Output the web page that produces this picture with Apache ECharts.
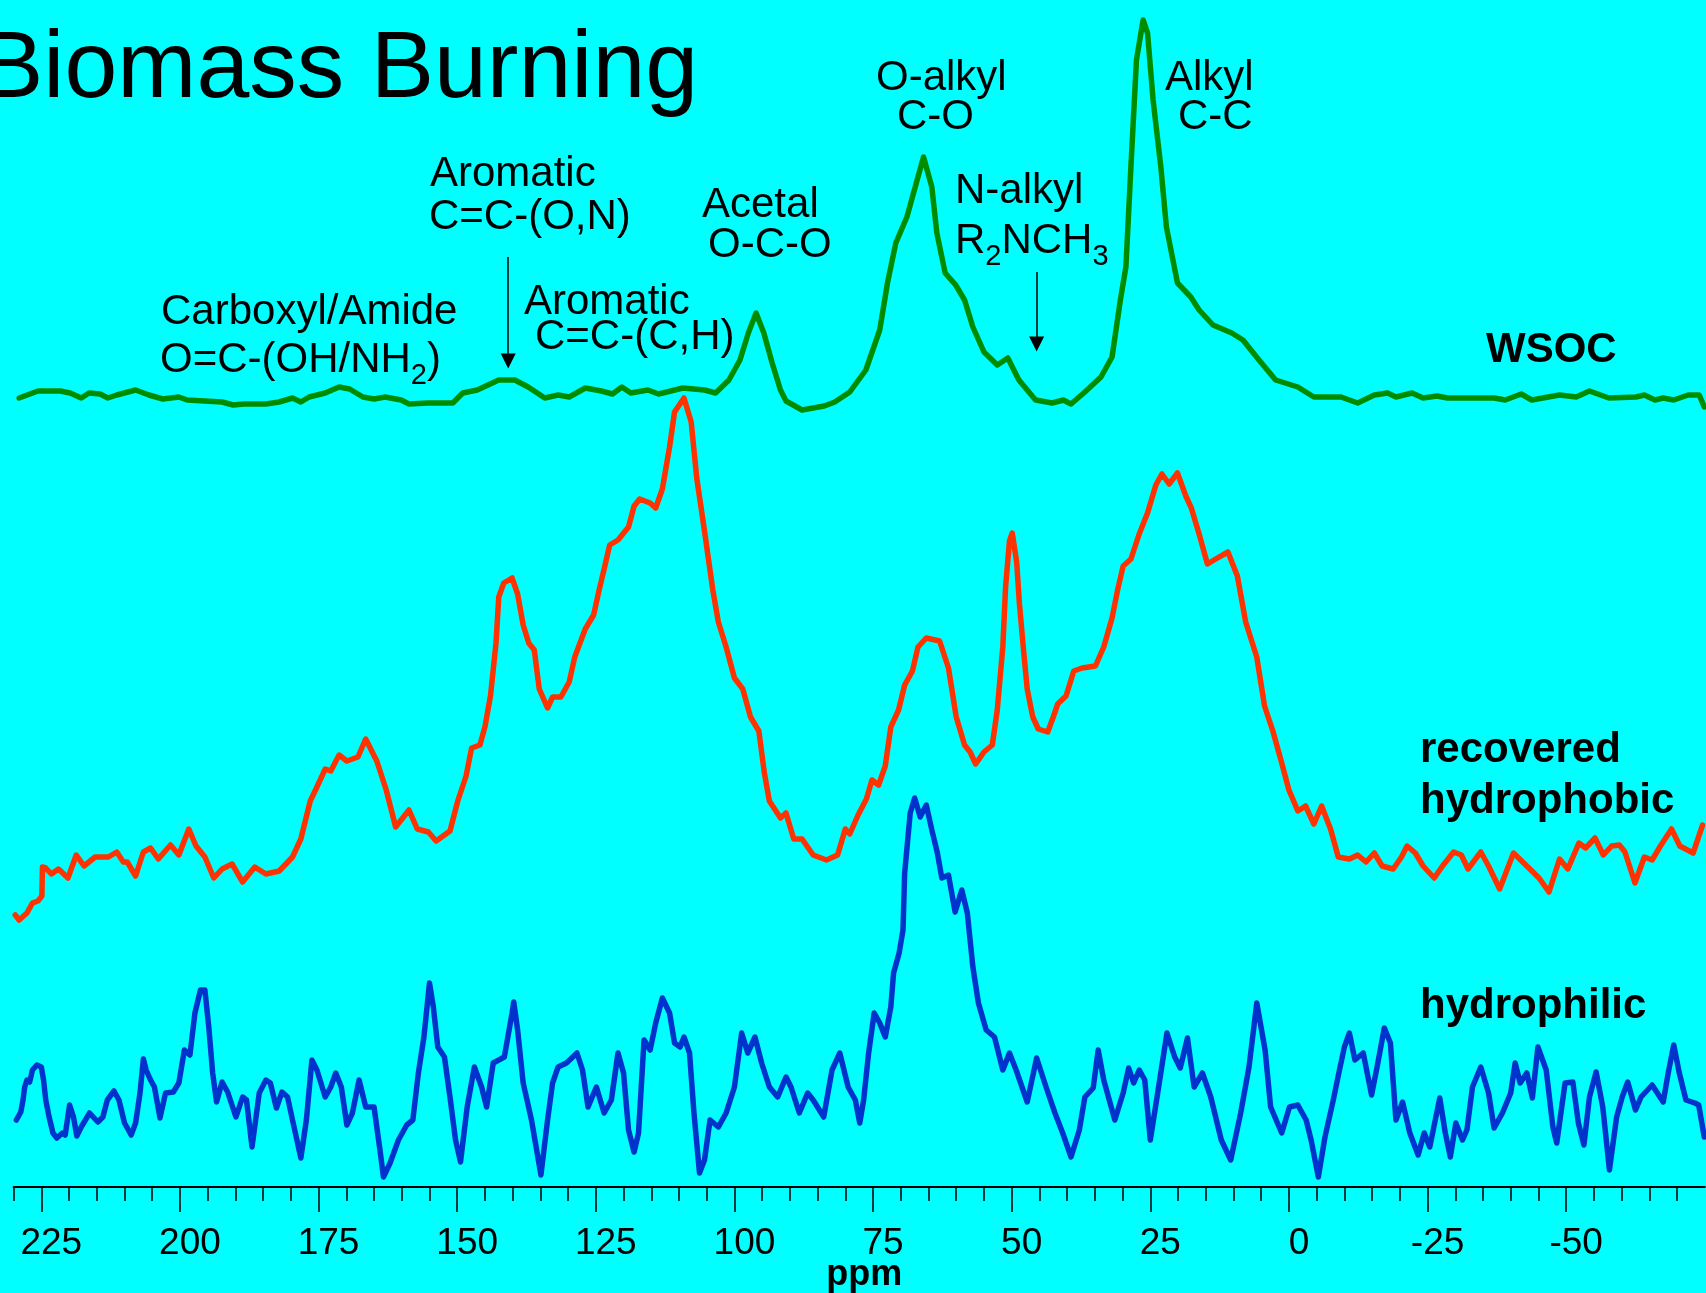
<!DOCTYPE html>
<html>
<head>
<meta charset="utf-8">
<title>Biomass Burning – 13C NMR spectra</title>
<script src="https://cdn.jsdelivr.net/npm/echarts@6/dist/echarts.min.js"></script>
<style>
  html, body { margin: 0; padding: 0; background: #00ffff; }
  #chart { width: 1706px; height: 1293px; }
</style>
</head>
<body>
<div id="chart"></div>
<script>
// Chemical-shift axis (ppm, drawn high → low)
const PPM_MIN = -75;
const PPM_MAX = 230;
const TICK_LABELS = [225, 200, 175, 150, 125, 100, 75, 50, 25, 0, -25, -50];

// Spectra: [ppm, intensity] pairs, intensity relative to each trace's own baseline
const WSOC = [
  [229.0,0],[225.6,7],[221.6,7],[219.8,5],[217.8,0],[216.4,5],[214.4,4],[213.0,0],[211.4,3],[208.0,8],
  [205.6,3],[203.1,-1],[200.2,1],[198.7,-2],[192.4,-4],[190.4,-7],[188.4,-6],[184.5,-6],[182.1,-4],[179.7,0],
  [178.2,-4],[176.7,1],[173.8,5],[171.3,11],[169.4,9],[167.0,1],[165.0,-1],[163.0,1],[160.1,-2],[158.7,-6],
  [155.3,-5],[150.8,-5],[149.0,5],[146.4,8],[142.5,18],[139.6,18],[137.2,11],[134.2,0],[131.8,3],[129.8,1],
  [126.9,10],[124.0,7],[122.0,4],[120.3,11],[118.7,5],[115.6,8],[113.7,4],[112.2,6],[109.3,10],[105.4,8],
  [103.4,5],[101.0,18],[99.0,38],[97.5,65],[96.1,85],[94.7,65],[93.2,35],[91.7,8],[90.7,-3],[87.8,-12],
  [85.8,-10],[83.8,-8],[81.9,-4],[79.2,6],[76.3,28],[73.8,68],[72.4,115],[70.9,155],[68.9,181],[67.4,211],
  [65.9,241],[64.4,211],[63.5,165],[62.0,125],[60.1,113],[58.5,98],[57.0,71],[55.0,46],[52.6,33],[50.7,40],
  [48.7,18],[45.7,-2],[42.7,-5],[40.7,-2],[39.3,-6],[36.8,6],[33.9,21],[31.9,41],[30.4,98],[29.4,131],
  [28.5,231],[27.5,338],[26.3,378],[25.5,365],[24.5,298],[23.1,231],[22.1,171],[20.1,115],[17.7,101],[16.2,88],
  [13.7,73],[10.3,65],[8.3,58],[5.4,38],[2.4,18],[-1.6,11],[-4.5,1],[-9.4,1],[-12.4,-5],[-15.4,3],
  [-17.8,5],[-19.3,1],[-22.2,5],[-24.2,0],[-26.7,2],[-28.6,0],[-37.0,0],[-39.0,-2],[-41.9,4],[-43.8,-2],
  [-48.8,3],[-51.8,1],[-54.2,7],[-57.7,0],[-62.6,1],[-64.1,3],[-66.0,-2],[-67.5,0],[-69.4,-2],[-72.0,3],
  [-74.0,3],[-74.9,-9]
];

const HYDROPHOBIC = [
  [229.7,-35],[229.0,-40],[227.6,-33],[226.6,-23],[225.6,-21],[224.9,-16],[224.8,13],[224.2,12],[223.2,6],[221.9,11],
  [220.2,2],[218.7,25],[217.3,14],[215.3,23],[212.9,23],[211.4,28],[210.2,18],[209.5,18],[208.0,4],[206.6,28],
  [205.3,32],[203.9,21],[201.7,35],[200.2,25],[198.4,51],[197.1,34],[195.5,23],[193.9,2],[192.4,11],[190.6,16],
  [188.7,-2],[186.5,13],[184.5,6],[182.1,9],[179.7,23],[178.2,41],[176.5,79],[175.3,93],[173.8,111],[172.8,109],
  [171.3,125],[169.9,119],[167.9,123],[166.5,141],[164.5,119],[162.8,90],[161.1,53],[158.7,70],[157.2,51],[155.2,48],
  [153.8,39],[151.3,49],[149.9,79],[148.4,104],[147.4,132],[145.9,135],[145.0,153],[144.0,184],[143.0,237],[142.5,283],
  [141.6,297],[140.1,302],[139.1,286],[138.1,255],[137.1,237],[136.1,230],[135.2,191],[133.7,172],[132.8,183],[131.3,183],
  [129.8,198],[128.8,223],[126.9,251],[125.4,265],[124.4,290],[123.5,311],[122.5,335],[121.0,340],[119.1,353],[118.1,374],
  [117.1,381],[115.2,377],[114.2,372],[113.0,391],[111.7,433],[110.8,468],[109.1,482],[107.8,458],[106.8,402],[105.4,349],
  [103.9,290],[102.9,258],[101.5,233],[100.0,202],[98.5,191],[97.1,163],[95.6,149],[94.6,107],[93.7,79],[91.7,62],
  [90.7,67],[89.3,41],[87.8,41],[85.8,25],[83.4,20],[81.4,25],[80.0,51],[79.2,46],[77.7,65],[76.2,81],
  [75.2,100],[74.0,95],[72.8,114],[71.8,153],[70.4,170],[69.3,195],[67.9,209],[66.9,233],[65.4,242],[63.0,239],
  [61.4,212],[60.0,163],[58.5,135],[57.5,128],[56.5,116],[55.0,128],[53.5,135],[52.6,170],[51.6,233],[51.1,293],
  [50.4,339],[49.9,347],[49.1,318],[48.6,276],[47.8,226],[47.2,191],[46.2,163],[45.2,151],[43.5,148],[42.5,163],
  [41.7,176],[40.2,184],[38.8,209],[37.3,212],[34.9,214],[33.4,233],[31.9,262],[30.9,290],[29.9,314],[28.5,321],
  [27.0,346],[25.5,367],[24.0,395],[22.9,406],[21.6,396],[20.1,407],[18.6,384],[17.6,372],[16.2,346],[14.7,316],
  [13.2,321],[11.0,328],[9.3,304],[7.8,258],[5.8,223],[4.4,174],[2.9,149],[1.4,119],[0.0,90],[-1.6,69],
  [-3.0,74],[-4.5,56],[-5.9,74],[-7.5,51],[-8.9,23],[-10.9,21],[-12.4,25],[-13.9,18],[-15.4,27],[-16.8,14],
  [-18.8,11],[-20.3,23],[-21.3,34],[-22.8,27],[-24.2,14],[-26.2,2],[-27.7,14],[-29.7,28],[-31.1,25],[-32.3,11],
  [-34.6,28],[-36.0,14],[-38.0,-9],[-40.5,27],[-42.9,14],[-45.1,2],[-46.9,-12],[-48.8,21],[-50.3,11],[-52.3,37],
  [-53.5,32],[-55.2,42],[-56.7,25],[-58.2,34],[-59.6,35],[-60.6,28],[-62.4,-3],[-64.1,23],[-65.5,20],[-67.0,34],
  [-69.0,51],[-70.5,34],[-72.9,27],[-74.6,55]
];

const HYDROPHILIC = [
  [229.5,0],[228.7,8],[228.3,20],[228.0,33],[227.6,40],[227.1,38],[226.6,50],[225.8,55],[225.0,53],[224.6,40],
  [224.2,20],[223.6,3],[222.9,-13],[222.2,-18],[221.2,-13],[220.7,-15],[219.9,15],[219.2,3],[218.6,-16],[217.8,-7],
  [216.3,7],[214.8,-2],[213.9,3],[213.1,20],[211.9,29],[211.0,20],[210.0,-3],[208.8,-15],[208.0,-3],[207.2,27],
  [206.6,61],[206.1,50],[205.3,40],[204.6,33],[203.6,2],[202.6,27],[201.2,28],[200.2,37],[199.2,70],[198.2,65],
  [197.3,107],[196.3,130],[195.5,130],[194.8,93],[194.1,47],[193.4,18],[192.4,38],[191.4,28],[189.9,3],[188.7,23],
  [188.0,20],[187.0,-27],[185.7,27],[184.5,40],[183.7,37],[182.6,12],[181.6,28],[180.6,23],[179.7,0],[178.2,-38],
  [177.2,0],[176.2,60],[175.3,50],[173.8,23],[172.8,33],[171.9,47],[170.9,33],[169.9,-5],[168.9,7],[167.7,40],
  [166.5,13],[165.0,13],[164.0,-27],[163.3,-57],[162.1,-43],[160.6,-20],[159.1,-5],[158.0,0],[157.0,47],[156.0,83],
  [155.0,137],[154.3,113],[153.5,73],[152.3,63],[151.3,23],[150.3,-20],[149.4,-42],[148.2,13],[146.9,53],[145.6,33],
  [144.7,13],[143.5,57],[141.5,63],[140.1,107],[139.8,118],[139.1,90],[138.1,37],[136.6,0],[134.9,-55],[133.7,0],
  [132.8,37],[131.8,53],[130.3,57],[128.4,67],[127.4,50],[126.4,13],[124.9,33],[123.5,7],[122.2,20],[121.0,67],
  [120.0,47],[119.1,-10],[118.1,-32],[117.3,-13],[116.3,80],[115.2,70],[114.2,97],[113.0,122],[111.7,107],[110.8,77],
  [109.8,73],[109.1,83],[108.1,67],[107.3,7],[106.3,-53],[105.4,-40],[104.4,0],[102.9,-7],[101.5,7],[100.0,33],
  [98.7,87],[97.6,67],[96.3,83],[95.1,57],[93.7,33],[92.2,23],[90.7,43],[89.8,33],[88.3,7],[86.8,27],
  [85.8,20],[83.9,3],[82.4,50],[81.0,67],[79.5,33],[78.2,20],[77.4,-3],[76.7,20],[75.8,67],[74.8,107],
  [73.8,97],[72.8,83],[71.8,113],[71.3,147],[70.3,167],[69.6,190],[69.3,247],[68.3,307],[67.5,322],[66.5,303],
  [65.4,315],[64.4,290],[63.4,267],[62.6,242],[61.4,245],[60.2,208],[59.0,230],[58.0,207],[57.0,153],[56.0,117],
  [54.6,90],[53.1,83],[51.6,50],[50.4,67],[49.2,50],[47.2,18],[45.5,62],[43.8,33],[42.2,7],[40.8,-13],
  [39.3,-37],[37.8,-10],[36.8,23],[35.3,32],[34.4,70],[33.4,40],[31.4,0],[29.9,27],[28.9,52],[28.0,37],
  [27.0,50],[26.0,40],[25.0,-20],[23.5,33],[22.0,87],[20.6,63],[19.6,52],[18.3,82],[17.1,33],[15.6,47],
  [14.1,23],[12.2,-20],[10.5,-40],[8.7,7],[7.2,53],[5.8,117],[4.3,70],[3.3,13],[1.3,-13],[-0.1,13],
  [-1.6,15],[-3.1,0],[-4.0,-20],[-5.3,-57],[-6.5,-17],[-8.0,20],[-9.0,47],[-10.0,73],[-10.9,87],[-11.9,60],
  [-13.4,67],[-14.9,25],[-15.9,53],[-17.2,92],[-18.3,77],[-19.3,0],[-20.5,18],[-21.8,-13],[-23.3,-35],[-24.4,-13],
  [-25.4,-27],[-27.2,22],[-28.2,-13],[-29.1,-37],[-30.1,-3],[-31.3,-20],[-32.1,-10],[-33.1,33],[-34.6,53],[-36.0,27],
  [-37.0,-8],[-38.5,7],[-40.0,27],[-40.8,57],[-41.7,37],[-42.9,47],[-43.9,22],[-44.9,73],[-46.4,50],[-47.6,-7],
  [-48.3,-23],[-49.8,37],[-51.2,38],[-52.2,-3],[-53.2,-25],[-54.2,23],[-55.4,48],[-56.6,13],[-57.8,-50],[-59.1,3],
  [-60.1,23],[-61.1,38],[-62.5,10],[-63.5,23],[-65.5,35],[-67.5,18],[-68.4,47],[-69.4,75],[-70.4,47],[-71.6,20],
  [-73.2,17],[-73.9,15],[-74.9,-17]
];

// Vertical stacking of the three traces (intensity units)
const STACK_OFFSET = { wsoc: 789, hydrophobic: 307, hydrophilic: 67 };
const Y_MAX = 1187;

// Assignment arrows: [ppm, top, tip] in intensity units
const ARROWS = [
  [140.8, 930, 819],
  [45.5, 915, 836]
];

const FONT = "'Liberation Sans', Arial, Helvetica, sans-serif";
const GREEN = '#008c00';
const RED = '#ff3300';
const BLUE = '#0033cc';

// minor ticks every 5 ppm, skipping the labelled ones
const MINOR_TICKS = [];
for (let v = PPM_MAX; v >= PPM_MIN + 5; v -= 5) {
  if (!TICK_LABELS.includes(v)) MINOR_TICKS.push(v);
}

const stacked = (pairs, off) => pairs.map(p => [p[0], p[1] + off]);

function label(text, x, yMid, opts) {
  return {
    type: 'text', x: x, y: yMid, silent: true,
    style: Object.assign({
      text: text, fill: '#000', fontFamily: FONT, fontSize: 42,
      lineHeight: 46, align: 'left', verticalAlign: 'middle'
    }, opts || {})
  };
}
const SUB = { fontFamily: FONT, fontSize: 29, lineHeight: 29, verticalAlign: 'top', padding: [24, 0, 0, 0], fill: '#000' };

const chart = echarts.init(document.getElementById('chart'), null, { renderer: 'canvas' });

const lineSeries = (name, data, color) => ({
  name: name, type: 'line', data: data, showSymbol: false, symbol: 'none',
  smooth: false, clip: false, silent: true,
  lineStyle: { color: color, width: 5.5, cap: 'round', join: 'round' }
});

const wsocSeries = lineSeries('WSOC', stacked(WSOC, STACK_OFFSET.wsoc), GREEN);
wsocSeries.markLine = {
  silent: true, animation: false,
  symbol: ['none', 'triangle'], symbolSize: 15,
  label: { show: false },
  lineStyle: { color: '#000', width: 1.5, type: 'solid' },
  emphasis: { disabled: true },
  data: ARROWS.map(a => [{ coord: [a[0], a[1]] }, { coord: [a[0], a[2] + 7] }])
};

chart.setOption({
  animation: false,
  backgroundColor: '#00ffff',
  grid: {
    left: 13.6, right: 1.2, top: 0, bottom: 1293 - Y_MAX,
    containLabel: false, outerBoundsMode: 'none'
  },
  xAxis: [
    {
      type: 'value', min: PPM_MIN, max: PPM_MAX, inverse: true, position: 'bottom',
      name: 'ppm', nameLocation: 'middle', nameGap: 70, nameMoveOverlap: false,
      nameTextStyle: { fontFamily: FONT, fontSize: 36, fontWeight: 'bold', color: '#000', padding: [0, 0, 0, 10] },
      axisLine: { show: true, onZero: false, lineStyle: { color: '#000', width: 2 } },
      axisTick: { show: true, customValues: TICK_LABELS, length: 25, inside: false, lineStyle: { color: '#000', width: 1.5 } },
      axisLabel: {
        show: true, customValues: TICK_LABELS, margin: 38,
        fontFamily: FONT, fontSize: 37, color: '#000', padding: [0, 0, 0, 20],
        hideOverlap: false, showMinLabel: true, showMaxLabel: true
      },
      splitLine: { show: false }
    },
    {
      type: 'value', min: PPM_MIN, max: PPM_MAX, inverse: true, position: 'bottom', offset: 0,
      axisLine: { show: false },
      axisTick: { show: true, customValues: MINOR_TICKS, length: 14, inside: false, lineStyle: { color: '#000', width: 1.5 } },
      axisLabel: { show: false },
      splitLine: { show: false }
    }
  ],
  yAxis: { type: 'value', min: 0, max: Y_MAX, show: false, splitLine: { show: false } },
  series: [
    wsocSeries,
    lineSeries('recovered hydrophobic', stacked(HYDROPHOBIC, STACK_OFFSET.hydrophobic), RED),
    lineSeries('hydrophilic', stacked(HYDROPHILIC, STACK_OFFSET.hydrophilic), BLUE)
  ],
  graphic: [
    label('Biomass Burning', -20, 71, { fontSize: 95, lineHeight: 100 }),
    label('Aromatic', 430, 174),
    label('C=C-(O,N)', 429, 217),
    label('Acetal', 702, 205),
    label('O-C-O', 708, 245),
    label('Carboxyl/Amide', 161, 312),
    label('O=C-(OH/NH{sub|2})', 160, 360, { rich: { sub: SUB } }),
    label('Aromatic', 524, 302),
    label('C=C-(C,H)', 535, 337),
    label('O-alkyl', 876, 78),
    label('C-O', 897, 117),
    label('Alkyl', 1165, 78),
    label('C-C', 1178, 117),
    label('N-alkyl', 955, 191),
    label('R{sub|2}NCH{sub|3}', 955, 241, { rich: { sub: SUB } }),
    label('WSOC', 1486, 350, { fontWeight: 'bold' }),
    label('recovered', 1420, 750, { fontWeight: 'bold' }),
    label('hydrophobic', 1420, 801, { fontWeight: 'bold' }),
    label('hydrophilic', 1420, 1006, { fontWeight: 'bold' })
  ]
});
</script>
</body>
</html>
